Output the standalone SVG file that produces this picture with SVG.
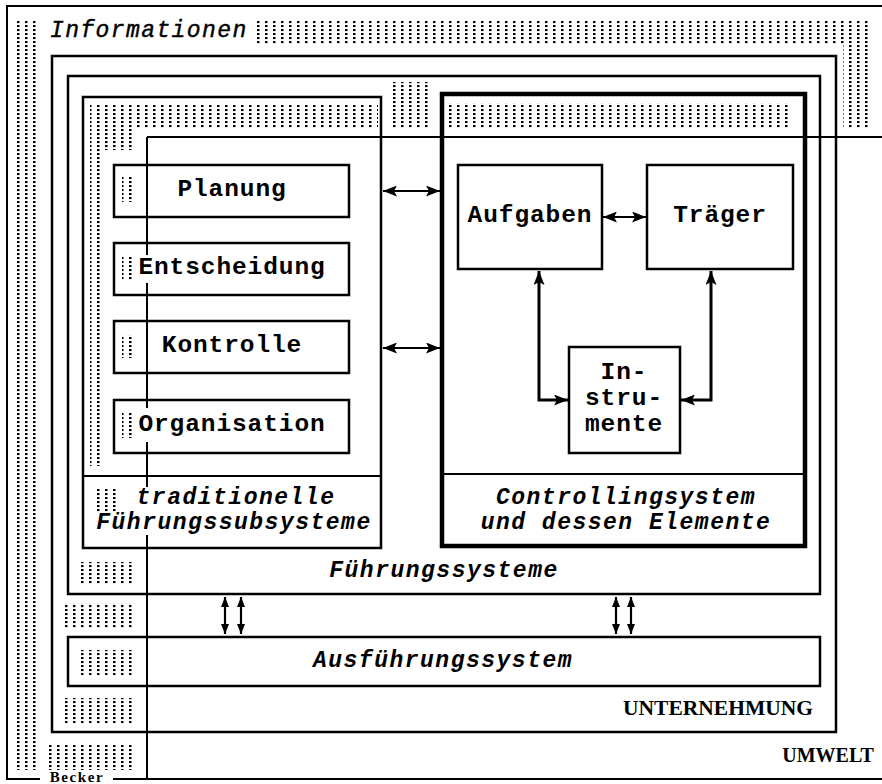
<svg xmlns="http://www.w3.org/2000/svg" width="882" height="784" viewBox="0 0 882 784">
<defs>
<pattern id="dots" width="8" height="4" patternUnits="userSpaceOnUse">
<rect x="1" y="1" width="2.5" height="2.1" fill="#000"/>
</pattern>
<marker id="ah" markerUnits="userSpaceOnUse" markerWidth="14" markerHeight="11" refX="14" refY="5.5" orient="auto-start-reverse">
<path d="M0,0 L14,5.5 L0,11 L3,5.5 z" fill="#000"/>
</marker>
<marker id="ahs" markerUnits="userSpaceOnUse" markerWidth="10" markerHeight="8" refX="10" refY="4" orient="auto-start-reverse">
<path d="M0,0 L10,4 L0,8 z" fill="#000"/>
</marker>
</defs>
<style>
.ln{fill:none;stroke:#000;stroke-width:2}
.box{fill:none;stroke:#000;stroke-width:2.5}
.thick{fill:none;stroke:#000;stroke-width:4.5}
.d{fill:url(#dots)}
.t{font-family:"Liberation Mono","Courier New",monospace;font-weight:bold;font-size:24.5px;letter-spacing:0.9px;text-anchor:middle;fill:#000}
.it{font-family:"Liberation Mono","Courier New",monospace;font-weight:bold;font-style:italic;font-size:23px;letter-spacing:1.5px;text-anchor:middle;fill:#000}
.sf{font-family:"Liberation Serif","Times New Roman",serif;font-weight:bold;text-anchor:middle;fill:#000}
.arr{fill:none;stroke:#000;stroke-width:2.2}
.arrb{fill:none;stroke:#000;stroke-width:3}
</style>
<rect width="882" height="784" fill="#fff"/>

<g id="informationen">
<path class="ln" d="M882,6 H7 V779 H40 M113,779 H882"/>
<rect class="d" x="12" y="20" width="28" height="750"/>
<rect class="d" x="253" y="20" width="617" height="25"/>
<rect class="d" x="843" y="45" width="27" height="83"/>
<rect class="d" x="45" y="745" width="92" height="25"/>
<rect class="d" x="62" y="603" width="73" height="25"/>
<rect class="d" x="62" y="698" width="73" height="25"/>
<rect class="d" x="77" y="562" width="58" height="23"/>
<rect class="d" x="77" y="650" width="58" height="25"/>
<rect class="d" x="90" y="104" width="288" height="24"/>
<rect class="d" x="90" y="128" width="47" height="22"/>
<rect class="d" x="90" y="150" width="14" height="316"/>
<rect class="d" x="122" y="177" width="13" height="25"/>
<rect class="d" x="122" y="257" width="13" height="23"/>
<rect class="d" x="122" y="335" width="13" height="23"/>
<rect class="d" x="122" y="413" width="13" height="25"/>
<rect class="d" x="92" y="488" width="29" height="24"/>
<rect class="d" x="388" y="82" width="41" height="46"/>
<rect class="d" x="448" y="103" width="345" height="25"/>
<text x="50" y="37" font-family="Liberation Mono, Courier New, monospace" font-style="italic" font-size="23" letter-spacing="1.4" stroke="#000" stroke-width="0.4" fill="#000">Informationen</text>
<text class="sf" x="77" y="782" font-size="15" letter-spacing="1.6">Becker</text>
</g>

<g id="umwelt">
<text class="sf" x="828" y="762" font-size="20">UMWELT</text>
</g>

<g id="unternehmung">
<rect class="box" x="52" y="56" width="784" height="676"/>
<text class="sf" x="718" y="715" font-size="21.5">UNTERNEHMUNG</text>
</g>

<g id="fuehrungssysteme">
<rect class="box" x="68" y="76" width="752" height="518"/>
<text class="it" x="444" y="577">Führungssysteme</text>
</g>

<g id="ausfuehrungssystem">
<rect class="box" x="68" y="637" width="752" height="49"/>
<text class="it" x="443" y="667">Ausführungssystem</text>
</g>

<g id="traditionelle">
<rect class="box" x="83" y="97" width="298" height="451"/>
<line class="ln" x1="83" y1="476" x2="381" y2="476"/>
<text class="it" x="236" y="504">traditionelle</text>
<text class="it" x="234" y="529">Führungssubsysteme</text>
</g>

<g id="planung">
<rect class="box" x="114" y="165" width="235" height="52"/>
<text class="t" x="232" y="196">Planung</text>
</g>
<g id="entscheidung">
<rect class="box" x="114" y="243" width="235" height="52"/>
<text class="t" x="232" y="274">Entscheidung</text>
</g>
<g id="kontrolle">
<rect class="box" x="114" y="321" width="235" height="52"/>
<text class="t" x="232" y="352">Kontrolle</text>
</g>
<g id="organisation">
<rect class="box" x="114" y="400" width="235" height="53"/>
<text class="t" x="232" y="431">Organisation</text>
</g>

<g id="controllingsystem">
<rect class="thick" x="442" y="94" width="363" height="452"/>
<line class="ln" x1="442" y1="474" x2="805" y2="474"/>
<text class="it" x="626" y="504">Controllingsystem</text>
<text class="it" x="626" y="529">und dessen Elemente</text>
</g>

<g id="aufgaben">
<rect class="box" x="458" y="165" width="144" height="104"/>
<text class="t" x="530" y="222">Aufgaben</text>
</g>
<g id="traeger">
<rect class="box" x="647" y="165" width="146" height="104"/>
<text class="t" x="720" y="222">Träger</text>
</g>
<g id="instrumente">
<rect class="box" x="569" y="347" width="111" height="106"/>
<text class="t" x="624" y="379">In-</text>
<text class="t" x="624" y="405">stru-</text>
<text class="t" x="624" y="431">mente</text>
</g>

<g id="connectors">
<path class="ln" d="M147,137 H882 M147,137 V255 M147,283 V408 M147,442 V487 M147,535 V779"/>
<line class="arr" x1="383" y1="191" x2="440" y2="191" marker-start="url(#ah)" marker-end="url(#ah)"/>
<line class="arr" x1="383" y1="348" x2="440" y2="348" marker-start="url(#ah)" marker-end="url(#ah)"/>
<line class="arr" x1="603" y1="217" x2="646" y2="217" marker-start="url(#ah)" marker-end="url(#ah)"/>
<path class="arrb" d="M539,271 V400 H568" marker-start="url(#ah)" marker-end="url(#ah)"/>
<path class="arrb" d="M711,271 V400 H681" marker-start="url(#ah)" marker-end="url(#ah)"/>
<line class="arr" x1="225" y1="597" x2="225" y2="634" marker-start="url(#ahs)" marker-end="url(#ahs)"/>
<line class="arr" x1="241" y1="597" x2="241" y2="634" marker-start="url(#ahs)" marker-end="url(#ahs)"/>
<line class="arr" x1="616" y1="597" x2="616" y2="634" marker-start="url(#ahs)" marker-end="url(#ahs)"/>
<line class="arr" x1="631" y1="597" x2="631" y2="634" marker-start="url(#ahs)" marker-end="url(#ahs)"/>
</g>
</svg>
